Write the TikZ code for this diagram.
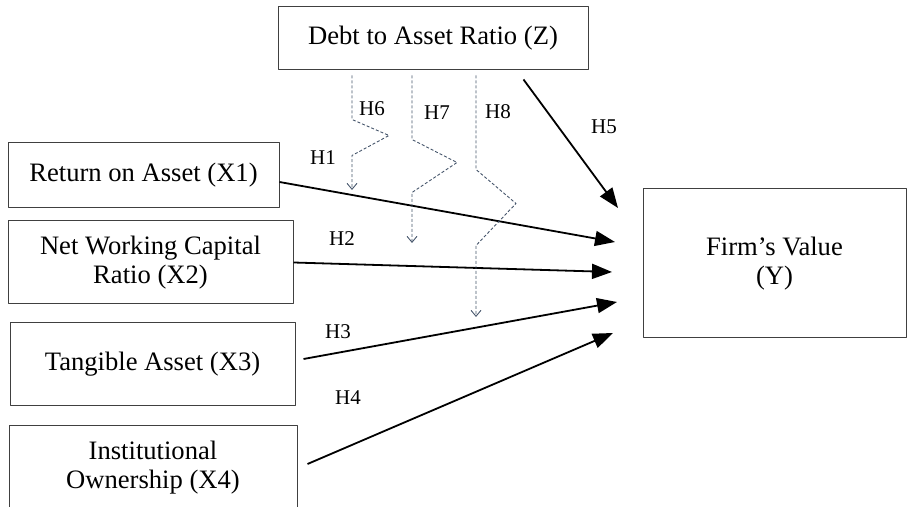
\documentclass[tikz,border=0pt]{standalone}
\usepackage{fontspec}
\setmainfont{Liberation Serif}
\usetikzlibrary{arrows.meta}
\definecolor{modblue}{HTML}{44546A}
\definecolor{boxgray}{HTML}{404040}
\tikzset{
  varbox/.style={draw=boxgray, line width=0.5pt, align=center, inner sep=0pt,
    font=\fontsize{13.3}{14.5}\selectfont},
  effect/.style={-{Triangle[length=10pt,width=7.5pt]}, line width=0.9pt},
  modline/.style={draw=modblue, line width=0.45pt, dash pattern=on 1.5pt off 1pt,
    -{Straight Barb[length=3pt,width=5pt]}},
  hlabel/.style={font=\fontsize{10.5}{12}\selectfont, inner sep=0pt}
}
\begin{document}
\begin{tikzpicture}[x=0.5pt, y=-0.5pt, line join=round]
\useasboundingbox (0,0) rectangle (907,507);
% variables
\node[varbox, minimum width=155pt, minimum height=31.5pt] (Z) at (433,38.5) {Debt to Asset Ratio (Z)};
\node[varbox, minimum width=135.5pt, minimum height=32.5pt] (X1) at (143.5,175.5) {Return on Asset (X1)};
\node[varbox, minimum width=142.5pt, minimum height=41.5pt] (X2) at (150.5,262.5) {Net Working Capital\\Ratio (X2)};
\node[varbox, minimum width=142.5pt, minimum height=41.5pt] (X3) at (152.5,364.5) {Tangible Asset (X3)};
\node[varbox, minimum width=144pt, minimum height=41.5pt] (X4) at (153,467.5) {Institutional\\Ownership (X4)};
\node[varbox, minimum width=131.5pt, minimum height=74.5pt] (Y) at (774.5,263.5) {Firm’s Value\\(Y)};
% arrow ends
\path
  (615,242) coordinate (t1)
  (612,272) coordinate (t2)
  (617,302) coordinate (t3)
  (613,333) coordinate (t4)
  (618,208) coordinate (t5)
  (352,190) coordinate (m6)
  (412,243) coordinate (m7)
  (476,317) coordinate (m8)
  ;
\draw[effect] ([yshift=-3.25pt]X1.east) -- (t1);
\draw[effect] (X2.east) -- (t2);
\draw[effect] ([shift={(4pt,2.75pt)}]X3.east) -- (t3);
\draw[effect] ([shift={(5pt,1.75pt)}]X4.east) -- (t4);
\draw[effect] ([shift={(-32.5pt,-4.5pt)}]Z.south east) -- (t5);
% moderation
\draw[modline] ([yshift=-2.5pt]Z.south -| m6) -- ++(0,44) -- ++(37,16) -- ++(-37,20) -- (m6);
\draw[modline] ([yshift=-2.5pt]Z.south -| m7) -- ++(0,64) -- ++(45,23) -- ++(-45,30) -- (m7);
\draw[modline] ([yshift=-2.5pt]Z.south -| m8) -- ++(0,94) -- ++(40,34) -- ++(-40,42) -- (m8);
\foreach \h/\x/\y in {H1/323/158, H2/342/239, H3/338/332, H4/348/398,
    H5/604/127, H6/372/109, H7/437/113, H8/498/112}
  {\node[hlabel] (\h) at (\x,\y) {\h};}
\end{tikzpicture}
\end{document}
